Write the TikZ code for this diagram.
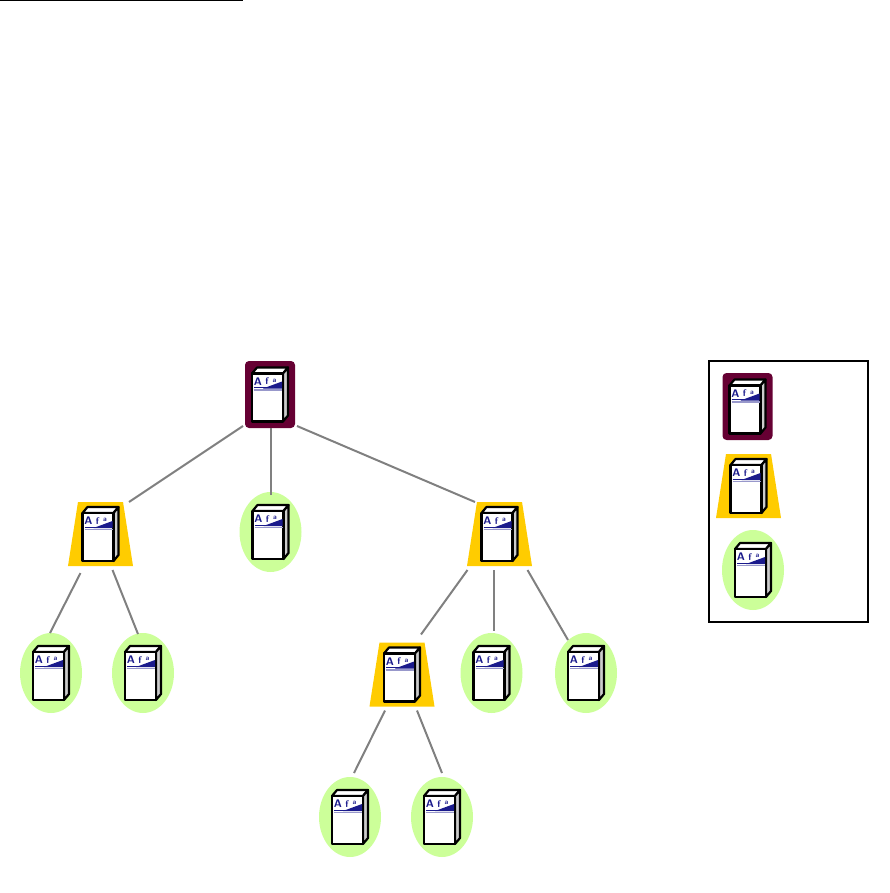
\documentclass[tikz,border=0pt]{standalone}
\usetikzlibrary{shapes.geometric}
\definecolor{headcol}{HTML}{660033}
\definecolor{relaycol}{HTML}{FFCC00}
\definecolor{leafcol}{HTML}{CCFF99}
\definecolor{logocol}{HTML}{1A1A8C}

\begin{document}
\begin{tikzpicture}[
    x=1pt, y=-1pt,
    head/.style={rectangle, rounded corners=4pt, fill=headcol, inner sep=0pt, outer sep=0pt, minimum width=50pt, minimum height=67pt},
    relay/.style={trapezium, trapezium stretches=true, trapezium left angle=77.5, trapezium right angle=77.5, fill=relaycol, inner sep=1pt, outer sep=0pt, minimum width=65pt, minimum height=64pt},
    leaf/.style={ellipse, fill=leafcol, inner sep=0pt, outer sep=0pt, minimum width=62pt, minimum height=80pt},
    link/.style={draw=gray, line width=2pt},
    frame/.style={draw=black, line width=2pt, fill=white, inner sep=0pt, outer sep=0pt, minimum width=159pt, minimum height=261pt},
    logo/.style={text=logocol, font=\bfseries\sffamily, inner sep=0pt},
    server/.pic={
        \filldraw[fill=white, line width=2.2pt, line join=round] (-18,-21) -- (-13,-27) -- (18,-27) -- (13,-21) -- cycle;
        \filldraw[fill=gray!40, line width=2.2pt, line join=round] (13,-21) -- (18,-27) -- (18,21) -- (13,27) -- cycle;
        \filldraw[fill=white, line width=2.2pt, line join=round] (-18,-21) rectangle (13,27);
        % wedge under the letters
        \fill[logocol] (-7,-6) -- (12,-13) -- (12,-6) -- cycle;
        \draw[logocol!45, line width=1.6pt] (-16,-4.5) -- (12,-4.5);
        \draw[logocol, line width=1pt] (-16,-7) -- (-1,-7);
        \node[logo] (la) at (-12,-13) {\fontsize{11}{11}\selectfont A};
        \node[logo] (lb) at (-3,-13) {\fontsize{9.5}{9.5}\selectfont f};
        \node[logo] (lc) at (4.5,-14) {\fontsize{7}{7}\selectfont a};
    }
]
\useasboundingbox (0,0) rectangle (890,893);

% Rule at the top
\coordinate (ruleL) at (0,0.75);
\coordinate (ruleR) at (243,0.75);
\draw[line width=1.5pt] (ruleL) -- (ruleR);

% Tree
\node[head] (root) at (270,394.5) {};
\node[relay] (relayL) at (100.5,534) {};
\node[leaf] (leafM) at (270.5,532) {};
\node[relay] (relayR) at (499.5,534) {};
\node[leaf] (leafA) at (51,673) {};
\node[leaf] (leafB) at (143,673) {};
\node[relay] (relayC) at (402,674.5) {};
\node[leaf] (leafC) at (491.5,673) {};
\node[leaf] (leafD) at (586,673) {};
\node[leaf] (leafE) at (350,817) {};
\node[leaf] (leafF) at (442,817) {};

\pic at (root) {server};
\pic at (relayL) {server};
\pic at (leafM) {server};
\pic at (relayR) {server};
\pic at (leafA) {server};
\pic at (leafB) {server};
\pic at (relayC) {server};
\pic at (leafC) {server};
\pic at (leafD) {server};
\pic at (leafE) {server};
\pic at (leafF) {server};

% Links
\draw[link] ([shift={(-2,-2)}]root.south west) -- ([xshift=6pt]relayL.top right corner);
\draw[link] ([xshift=1pt]root.south) -- ([shift={(0.5,3)}]leafM.north);
\draw[link] ([shift={(2,-2)}]root.south east) -- ([xshift=-2pt]relayR.top left corner);

\draw[link] ([shift={(-20,7)}]relayL.south) -- ([shift={(-1,0)}]leafA.north);
\draw[link] ([shift={(12,4)}]relayL.south) -- ([shift={(-5,1)}]leafB.north);

\draw[link] ([shift={(-32,4)}]relayR.south) -- ([shift={(19,-8)}]relayC.north);
\draw[link] ([shift={(-5.5,4)}]relayR.south) -- ([shift={(2.5,-2)}]leafC.north);
\draw[link] ([shift={(28,4)}]relayR.south) -- ([shift={(-18,7)}]leafD.north);

\draw[link] ([shift={(-17,4)}]relayC.south) -- ([shift={(4,-4)}]leafE.north);
\draw[link] ([shift={(15,4)}]relayC.south) -- ([shift={(0,-4)}]leafF.north);

% Legend
\node[frame] (legend) at (788.5,491.5) {};
\node[head] (keyhead) at (747.5,406.5) {};
\node[relay] (keyrelay) at (748.5,486) {};
\node[leaf] (keyleaf) at (753,570) {};
\pic at (keyhead) {server};
\pic at (keyrelay) {server};
\pic at (keyleaf) {server};

\end{tikzpicture}
\end{document}
